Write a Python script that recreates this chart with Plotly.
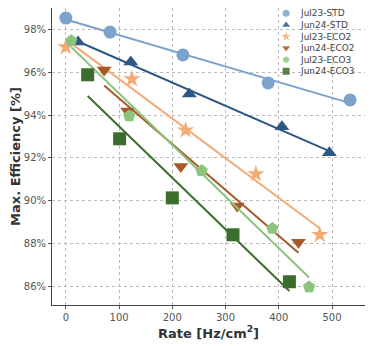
import numpy as np
import plotly.graph_objects as go

# data
names = ["Jul23-STD", "Jun24-STD", "Jul23-ECO2", "Jun24-ECO2", "Jul23-ECO3", "Jun24-ECO3"]

jul23_std_x = [0, 83, 220, 380, 534]
jul23_std_y = [98.56, 97.9, 96.83, 95.52, 94.72]

jun24_std_x = [23, 122, 232, 406, 495]
jun24_std_y = [97.44, 96.5, 95.0, 93.46, 92.24]

jul23_eco2_x = [0, 124, 225, 357, 477]
jul23_eco2_y = [97.2, 95.7, 93.3, 91.25, 88.4]

jun24_eco2_x = [72, 116, 216, 322, 437]
jun24_eco2_y = [96.13, 94.2, 91.6, 89.75, 88.05]

jul23_eco3_x = [10, 119, 255, 388, 457]
jul23_eco3_y = [97.5, 93.97, 91.4, 88.7, 85.95]

jun24_eco3_x = [41, 101, 200, 314, 420]
jun24_eco3_y = [95.9, 92.9, 90.13, 88.4, 86.2]

y_ticks = [86, 88, 90, 92, 94, 96, 98]
x_ticks = [0, 100, 200, 300, 400, 500]

series = [
    (jul23_std_x, jul23_std_y, "#7ba3cc", "circle"),
    (jun24_std_x, jun24_std_y, "#2e5785", "triangle-up"),
    (jul23_eco2_x, jul23_eco2_y, "#f4aa73", "star"),
    (jun24_eco2_x, jun24_eco2_y, "#a65a28", "triangle-down"),
    (jul23_eco3_x, jul23_eco3_y, "#8cc47e", "pentagon"),
    (jun24_eco3_x, jun24_eco3_y, "#3b6e2c", "square"),
]

fig = go.Figure()

# legend layout (fractions of the plot area), drawn by hand so the rows sit tight
leg_x_marker = 0.748
leg_x_text = 0.785
leg_y0 = 0.982
leg_dy = 0.039

for i, (name, (xs, ys, col, sym)) in enumerate(zip(names, series)):
    # linear fit over the measured range
    k, b = np.polyfit(xs, ys, 1)
    fx = [min(xs), max(xs)]
    fig.add_trace(go.Scatter(x=fx, y=[k * v + b for v in fx], mode="lines",
                             line=dict(color=col, width=2), showlegend=False,
                             hoverinfo="skip"))
    fig.add_trace(go.Scatter(x=xs, y=ys, mode="markers", name=name, showlegend=False,
                             marker=dict(color=col, symbol=sym, size=13,
                                         line=dict(width=0))))
    ly = leg_y0 - leg_dy * i
    fig.add_trace(go.Scatter(x=[leg_x_marker], y=[ly], mode="markers", name=name,
                             xaxis="x2", yaxis="y2", showlegend=False, hoverinfo="skip",
                             marker=dict(color=col, symbol=sym, size=7, opacity=0.85,
                                         line=dict(width=0))))
    fig.add_annotation(x=leg_x_text, y=ly, xref="paper", yref="paper", text=name,
                       showarrow=False, xanchor="left", yanchor="middle",
                       font=dict(family="DejaVu Sans", size=9, color="#444444"))

# white legend box
fig.add_shape(type="rect", xref="paper", yref="paper", x0=0.725, x1=0.971,
              y0=0.762, y1=0.999, fillcolor="white", line=dict(width=0), layer="below")

axis_common = dict(
    showline=True, linecolor="#444444", linewidth=1, mirror=True,
    showgrid=True, gridcolor="#bbbbbb", griddash="dot", gridwidth=1,
    zeroline=False, ticks="outside", ticklen=3, tickcolor="#555555",
    tickfont=dict(family="DejaVu Sans", size=10, color="#555555"),
    automargin=False,
)

fig.update_xaxes(range=[-26, 562], tickvals=x_ticks,
                 title=dict(text="Rate [Hz/cm<sup>2</sup>]", standoff=6,
                            font=dict(family="DejaVu Sans", size=13, color="#333333",
                                      weight="bold")),
                 **axis_common)
fig.update_yaxes(range=[85.11, 99.03], tickvals=y_ticks,
                 ticktext=[f"{v}%" for v in y_ticks],
                 title=dict(text="Max. Efficiency [%]", standoff=6,
                            font=dict(family="DejaVu Sans", size=13, color="#333333",
                                      weight="bold")),
                 **axis_common)

fig.update_layout(
    width=365, height=338,
    margin=dict(l=44, r=8, t=0, b=41),
    paper_bgcolor="white", plot_bgcolor="white",
    showlegend=False,
    xaxis2=dict(overlaying="x", range=[0, 1], visible=False, fixedrange=True),
    yaxis2=dict(overlaying="y", range=[0, 1], visible=False, fixedrange=True),
)

fig.write_html("out.html")
